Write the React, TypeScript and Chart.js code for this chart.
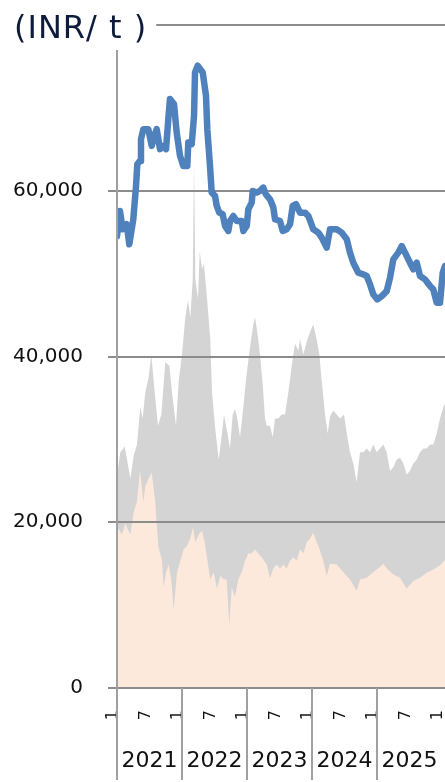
import React, { useEffect, useRef } from 'react';
import { Chart, registerables } from 'chart.js';

Chart.register(...registerables);

// x values are months elapsed since January 2021
const priceMonths = [0,0.55,1.05,1.79,2.27,3.01,3.51,3.75,4.25,4.43,4.86,5.78,6.41,6.89,7.33,7.94,8.55,9.05,9.47,9.78,10.52,11.02,11.63,12.24,12.98,13.16,13.79,14.22,14.40,14.90,15.82,16.43,16.67,17.17,17.48,18.09,18.41,18.89,19.51,19.94,20.55,20.86,21.47,22.10,23.02,23.32,23.95,24.24,24.87,25.05,25.79,26.40,27.01,27.45,28.25,28.86,29.17,30.09,30.59,31.33,31.94,32.44,33.05,33.79,34.71,35.32,36.24,37.16,37.79,38.71,39.32,40.56,41.48,42.41,43.02,43.62,44.55,45.47,46.10,46.71,47.32,48.06,48.87,49.79,50.40,51.01,51.93,52.56,53.17,54.09,54.70,55.33,55.94,56.86,57.79,58.39,59.02,59.63,60.13,60.55];
const priceValues = [54540,57560,55350,55950,53540,56560,60580,63200,63600,66230,67430,67430,65420,66630,67430,65020,65420,65020,68640,71060,70460,67030,64220,63000,63000,65820,65620,69040,74280,75090,74280,71460,67430,63000,59780,59380,58170,57360,57160,55750,55150,56350,56960,56350,56350,55150,55750,57760,58570,59980,59780,59980,60380,59580,58970,57970,56560,56350,55150,55350,55950,58170,58370,57360,57360,56960,55350,54950,54350,53140,55350,55350,54950,54140,52530,51320,50110,49910,49710,48700,47490,46890,47290,47890,49510,51720,52530,53330,52530,51320,50510,51320,49710,49310,48500,48100,46490,46490,50110,50920];

const upperMonths = [0,0.61,1.42,1.85,2.46,3.08,3.69,4.30,4.74,5.22,5.85,6.33,6.96,7.57,8.18,8.92,9.66,10.15,10.89,11.39,12.00,12.61,13.11,13.53,13.98,14.22,14.46,14.95,15.27,15.69,16.06,16.62,17.22,17.54,18.15,18.78,19.38,19.75,20.25,20.86,21.36,21.78,22.21,22.71,23.32,23.95,24.55,25.16,25.48,25.90,26.40,26.90,27.32,27.64,28.25,28.75,29.17,29.78,30.41,31.02,31.63,32.26,32.86,33.47,33.79,34.40,35.13,35.63,36.24,36.87,37.35,37.79,38.40,38.90,39.32,39.93,40.56,41.17,41.91,42.41,43.02,43.62,44.24,44.86,45.47,46.10,46.71,47.32,47.94,48.55,49.17,49.79,50.40,51.01,51.63,52.25,52.86,53.48,54.09,54.70,55.33,55.94,56.55,57.17,57.79,58.39,59.02,59.63,60.24,60.55];
const upperValues = [25500,28460,29140,27560,25290,28010,29370,33890,32530,35700,37510,40230,35700,31630,32990,39320,38870,35700,31630,37060,40230,44750,46790,44750,49280,63500,49280,47010,52670,50630,51090,47010,42040,35700,31180,27560,30720,32990,31180,28910,32990,33670,32530,30270,33890,37960,41130,43850,44750,42940,40230,36610,32530,31630,31630,30270,32530,32530,32990,32990,35700,38870,41580,40680,42040,40230,42040,42940,43850,42040,40230,37060,32990,30720,32760,33440,32990,32530,32990,30720,28460,27100,24840,28460,28460,28910,28460,29370,28460,28910,29370,28460,26200,26650,27560,27780,27100,25750,26200,27100,27560,28460,28910,28910,29370,29370,30720,32530,33890,34340];

const lowerMonths = [0,0.92,1.53,2.46,3.08,3.69,4.25,4.86,5.22,5.85,6.41,7.02,7.63,8.31,8.62,9.05,9.54,10.02,10.47,11.08,11.69,12.31,12.92,13.53,14.03,14.46,15.08,15.69,16.19,16.80,17.22,17.85,18.46,19.07,19.75,20.25,20.73,21.17,21.78,22.39,23.02,23.63,24.24,24.87,25.48,26.09,26.71,27.64,28.25,28.86,29.48,30.09,30.70,31.33,31.94,32.55,33.17,33.79,34.40,35.02,35.63,36.24,36.87,37.42,38.09,38.71,39.32,40.56,41.78,43.02,44.24,44.86,46.10,47.32,48.55,49.17,49.79,51.01,52.25,53.48,54.70,55.94,57.17,58.39,59.63,60.55];
const lowerValues = [19500,18510,19860,18510,21220,22500,26300,22400,24300,25300,26000,22700,17100,15340,12170,13980,14890,13080,9500,13980,15340,16700,17150,18050,19410,17600,18510,18960,17600,14890,13080,13980,12000,13530,13080,13080,7600,12170,11000,13080,13980,15340,16240,16240,16700,16240,15790,14890,13200,14430,14890,14430,14890,14430,15340,15790,15340,16700,16240,17600,18050,18730,17600,16700,15340,13500,15000,14890,13980,13080,11720,13080,13300,14000,14600,15000,14430,13700,13300,12000,12900,13300,13900,14300,14800,15500];

const yTickValues = [0, 20000, 40000, 60000, 80000];
const monthTickValues = [0, 6, 12, 18, 24, 30, 36, 42, 48, 54, 60];
const monthTickLabels = ['1', '7'];
const yearTickValues = [6, 18, 30, 42, 54];
const yearLabels = ['2021', '2022', '2023', '2024', '2025'];
const yearBoundaries = [0, 12, 24, 36, 48];
const unitLabel = '(INR/ t )';
const X_MIN = 0;
const X_MAX = 60.55;

const FONT = "'DejaVu Sans', Verdana, sans-serif";
const GRID = '#8c8c8c';
const AXIS = '#a0a0a0';

const toPoints = (xs: number[], ys: number[]) => xs.map((x, i) => ({ x, y: ys[i] }));

const setTitleFont = (ctx: any) => {
  ctx.font = `32px ${FONT}`;
  try { ctx.letterSpacing = '1px'; } catch (e) { /* ignore */ }
};

const overlayPlugin = {
  id: 'overlay',
  beforeDatasetDraw(chart: any, args: any) {
    if (args.index !== 0) return;
    const { ctx, chartArea, scales } = chart;
    ctx.save();
    setTitleFont(ctx);
    const labelEnd = 14 + ctx.measureText(unitLabel).width;
    ctx.strokeStyle = GRID;
    ctx.lineWidth = 2;
    yTickValues.forEach((v, i) => {
      const py = Math.round(scales.y.getPixelForValue(v));
      const x0 = i === yTickValues.length - 1 ? labelEnd + 9 : chartArea.left;
      ctx.beginPath();
      ctx.moveTo(x0, py);
      ctx.lineTo(chartArea.right, py);
      ctx.stroke();
    });
    ctx.restore();
  },
  afterDraw(chart: any) {
    const { ctx, chartArea, scales, height } = chart;
    ctx.save();
    ctx.strokeStyle = AXIS;
    ctx.lineWidth = 2;
    yearBoundaries.forEach((m) => {
      const px = Math.round(scales.x.getPixelForValue(m));
      const top = m === 0 ? 50 : chartArea.bottom;
      ctx.beginPath();
      ctx.moveTo(px, top);
      ctx.lineTo(px, height - 2);
      ctx.stroke();
    });
    ctx.fillStyle = '#0e1c3b';
    setTitleFont(ctx);
    ctx.textBaseline = 'alphabetic';
    ctx.textAlign = 'left';
    ctx.fillText(unitLabel, 14, 38);
    ctx.restore();
  },
};

export default function App() {
  const canvasRef = useRef<HTMLCanvasElement | null>(null);

  useEffect(() => {
    const canvas = canvasRef.current;
    if (!canvas) return;
    const chart = new Chart(canvas, {
      type: 'line',
      data: {
        datasets: [
          {
            label: 'Price',
            data: toPoints(priceMonths, priceValues),
            borderColor: '#4f81bd',
            borderWidth: 6.5,
            borderJoinStyle: 'round',
            borderCapStyle: 'round',
            pointRadius: 0,
            tension: 0,
            fill: false,
          },
          {
            label: 'Lower',
            data: toPoints(lowerMonths, lowerValues),
            borderWidth: 0,
            borderColor: 'rgba(0,0,0,0)',
            backgroundColor: '#fde9db',
            pointRadius: 0,
            tension: 0,
            fill: 'origin',
          },
          {
            label: 'Upper',
            data: toPoints(upperMonths, upperValues),
            borderWidth: 0,
            borderColor: 'rgba(0,0,0,0)',
            backgroundColor: '#d4d4d4',
            pointRadius: 0,
            tension: 0,
            fill: 'origin',
          },
        ],
      },
      options: {
        responsive: false,
        animation: false,
        devicePixelRatio: 1,
        layout: { padding: { top: 25, left: 0, right: 0, bottom: 0 } },
        plugins: { legend: { display: false }, tooltip: { enabled: false } },
        scales: {
          x: {
            type: 'linear',
            position: 'bottom',
            weight: 0,
            min: X_MIN,
            max: X_MAX,
            grid: { display: false, drawTicks: false },
            border: { display: false },
            afterBuildTicks: (s: any) => {
              s.ticks = monthTickValues.map((v) => ({ value: v }));
            },
            afterFit: (s: any) => {
              s.height = 50;
              s.paddingLeft = 0;
              s.paddingRight = 0;
            },
            ticks: {
              autoSkip: false,
              minRotation: 90,
              maxRotation: 90,
              padding: 22,
              labelOffset: -4,
              color: '#111',
              font: { family: FONT, size: 16 },
              callback: (v: any) => monthTickLabels[(Number(v) % 12) === 0 ? 0 : 1],
            },
          },
          x2: {
            type: 'linear',
            position: 'bottom',
            weight: 1,
            min: X_MIN,
            max: X_MAX,
            grid: { display: false, drawTicks: false },
            border: { display: false },
            afterBuildTicks: (s: any) => {
              s.ticks = yearTickValues.map((v) => ({ value: v }));
            },
            afterFit: (s: any) => {
              s.height = 44;
              s.paddingLeft = 0;
              s.paddingRight = 0;
            },
            ticks: {
              autoSkip: false,
              maxRotation: 0,
              minRotation: 0,
              padding: 10,
              color: '#111',
              font: { family: FONT, size: 22 },
              callback: (_v: any, i: number) => yearLabels[i],
            },
          },
          y: {
            type: 'linear',
            position: 'left',
            min: 0,
            max: 80000,
            afterBuildTicks: (s: any) => {
              s.ticks = yTickValues.map((v) => ({ value: v }));
            },
            afterFit: (s: any) => {
              s.width = 117;
              s.paddingTop = 0;
              s.paddingBottom = 0;
            },
            grid: {
              drawOnChartArea: false,
              drawTicks: true,
              tickLength: 9,
              lineWidth: 2,
              color: (c: any) => (c.tick && c.tick.value === 80000 ? 'rgba(0,0,0,0)' : GRID),
            },
            border: { display: false },
            ticks: {
              padding: 25,
              color: '#111',
              font: { family: FONT, size: 20 },
              callback: (v: any) => (Number(v) === 80000 ? '' : Number(v).toLocaleString('en-US')),
            },
          },
        },
      } as any,
      plugins: [overlayPlugin],
    });
    return () => chart.destroy();
  }, []);

  return (
    <div style={{ position: 'absolute', left: 0, top: 0, width: 445, height: 782 }}>
      <canvas ref={canvasRef} width={445} height={782} style={{ display: 'block' }} />
    </div>
  );
}
